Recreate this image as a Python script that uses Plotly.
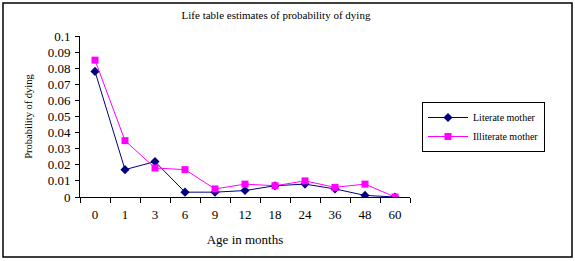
import plotly.graph_objects as go

ages = ["0", "1", "3", "6", "9", "12", "18", "24", "36", "48", "60"]
literate = [0.078, 0.017, 0.022, 0.003, 0.003, 0.004, 0.007, 0.008, 0.005, 0.001, 0.0]
illiterate = [0.085, 0.035, 0.018, 0.017, 0.005, 0.008, 0.007, 0.010, 0.006, 0.008, 0.0]

W, H = 575, 261
L, R, T, B = 80, 410, 36, 197

fig = go.Figure()
fig.add_trace(go.Scatter(x=ages, y=literate, name="Literate mother", mode="lines+markers",
                         line=dict(color="#000080", width=1),
                         marker=dict(symbol="diamond", size=7, color="#000080")))
fig.add_trace(go.Scatter(x=ages, y=illiterate, name="Illiterate mother", mode="lines+markers",
                         line=dict(color="#FF00FF", width=1),
                         marker=dict(symbol="square", size=7, color="#FF00FF")))

def px(x):
    return (x - L) / (R - L)

def py(y):
    return (B - y) / (B - T)

fig.update_layout(
    width=W, height=H,
    margin=dict(l=L, r=W - R, t=T, b=H - B, pad=0, autoexpand=False),
    paper_bgcolor="white", plot_bgcolor="white",
    font=dict(family="Liberation Serif", size=13, color="black"),
    title=dict(text="Life table estimates of probability of dying", x=(180 + 372) / 2 / W,
               xanchor="center", y=1 - 15 / H, yanchor="middle", font=dict(size=11)),
    xaxis=dict(type="category", showline=True, linecolor="black", linewidth=1,
               ticks="outside", tickson="boundaries", ticklen=5, tickcolor="black",
               showgrid=False, zeroline=False, range=[-0.5, 10.5], automargin=False,
               ticklabelstandoff=5,
               title=dict(text="Age in months", font=dict(size=13), standoff=14)),
    yaxis=dict(range=[0, 0.1], dtick=0.01, showline=True, linecolor="black", linewidth=1,
               ticks="outside", ticklen=4, tickcolor="black", showgrid=False, zeroline=False,
               automargin=False, ticklabelstandoff=2,
               title=dict(text="Probability of dying", font=dict(size=10.5), standoff=12)),
    legend=dict(x=px(422), y=py(102), xanchor="left", yanchor="top",
                bordercolor="black", borderwidth=1, bgcolor="white",
                font=dict(size=10), tracegroupgap=0, itemwidth=40),
    showlegend=True,
)
fig.add_shape(type="rect", xref="paper", yref="paper",
              x0=px(3), x1=px(572), y0=py(257), y1=py(3),
              line=dict(color="black", width=1.5), fillcolor="rgba(0,0,0,0)", layer="above")
fig.write_html("out.html", config={"displayModeBar": False},
               post_script="document.body.style.margin='0';document.body.style.overflow='hidden';")
